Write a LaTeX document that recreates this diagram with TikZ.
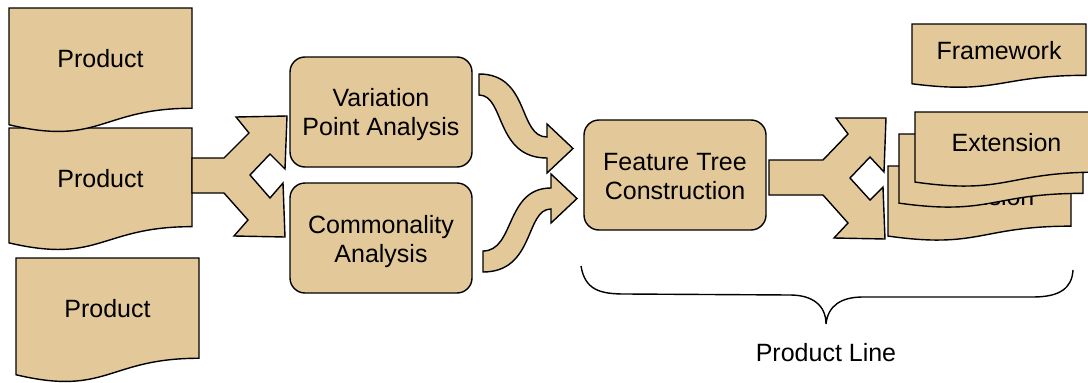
\documentclass[tikz,border=0pt]{standalone}
\usepackage{fontspec}
\setmainfont{Liberation Sans}
\definecolor{tanfill}{RGB}{227,201,154}
\tikzset{
  shapestyle/.style={draw=black, fill=tanfill, line width=1.4pt, line join=miter},
  boxstyle/.style={shapestyle, rounded corners=15pt, minimum width=182pt, minimum height=110pt, inner sep=0pt},
  txt/.style={align=center, font=\fontsize{25}{29}\selectfont, inner sep=0pt},
}
\newcommand\docshape[6]{%
  \draw[shapestyle] (#2,#3) -- ({#2+#4},#3) -- ({#2+#4},{#3+0.802*#5})
    .. controls ({#2+0.5*#4},{#3+0.802*#5}) and ({#2+0.5*#4},{#3+1.108*#5}) .. (#2,{#3+0.934*#5}) -- cycle;
  \node[txt] (#1) at ({#2+0.5*#4},{#3+0.4*#5+1}) {#6};
}
\begin{document}
\begin{tikzpicture}[x=1pt,y=-1pt]
\clip (0,0) rectangle (1088,383);
\fill[white] (0,0) rectangle (1088,383);
% product documents
\docshape{p3}{16}{258}{183}{125}{Product}
\docshape{p2}{9}{128}{183}{123}{Product}
\docshape{p1}{9}{8}{183}{125}{Product}
% split arrow 1
\draw[shapestyle] (192,158) -- (224,158) -- (249,133) -- (236,117) -- (287,116) -- (285,169) -- (270,154) -- (250,175) -- (270,198) -- (283,183) -- (285,237) -- (234,236) -- (248,220) -- (224,193) -- (192,193) -- cycle;
% analysis boxes
\node[boxstyle] (vpa) at (381,112) {};
\node[txt] (vpat) at (381,115) {Variation\\Point Analysis};
\node[boxstyle] (ca) at (381,238) {};
\node[txt] (cat) at (381,241.5) {Commonality\\Analysis};
% curved arrows
\draw[shapestyle] (479,74) .. controls (530,74) and (518,137) .. (547,137) -- (547,124) -- (573,148.5) -- (547,173) -- (547,158) .. controls (495,158) and (505,95) .. (479,95) -- cycle;
\draw[shapestyle] (483,251) .. controls (515,251) and (505,188) .. (551,188) -- (551,174) -- (577,198.5) -- (551,223) -- (551,209) .. controls (525,209) and (535,272) .. (483,272) -- cycle;
% feature tree
\node[boxstyle] (ftc) at (675,175) {};
\node[txt] (ftct) at (675,177) {Feature Tree\\Construction};
% split arrow 2
\draw[shapestyle] (769,160) -- (823,160) -- (848,134) -- (836,118) -- (886,118) -- (884,172) -- (870,157) -- (850,178) -- (870,200) -- (883,187) -- (885,239) -- (834,238) -- (848,223) -- (823,195) -- (769,195) -- cycle;
% output documents
\docshape{fw}{912}{24}{174}{64}{Framework}
\docshape{ext3}{888}{166}{183}{75}{Extension}
\draw[shapestyle] (899,134) -- (1083,134) -- (1083,{134+0.802*74})
    .. controls ({899+92},{134+0.802*74}) and ({899+92},{134+1.108*74}) .. (899,{134+0.934*74}) -- cycle;
\docshape{ext1}{915}{112}{183}{75}{Extension}
% brace
\draw[line width=1.4pt] (581,266) .. controls (585,290) and (600,294) .. (625,294) -- (790,295) .. controls (812,295) and (826,305) .. (826,324) .. controls (828,305) and (842,297) .. (863,297) -- (1033,297) .. controls (1060,297) and (1072,288) .. (1073,270);
\node[txt] (pl) at (826,353) {Product Line};
\end{tikzpicture}
\end{document}
